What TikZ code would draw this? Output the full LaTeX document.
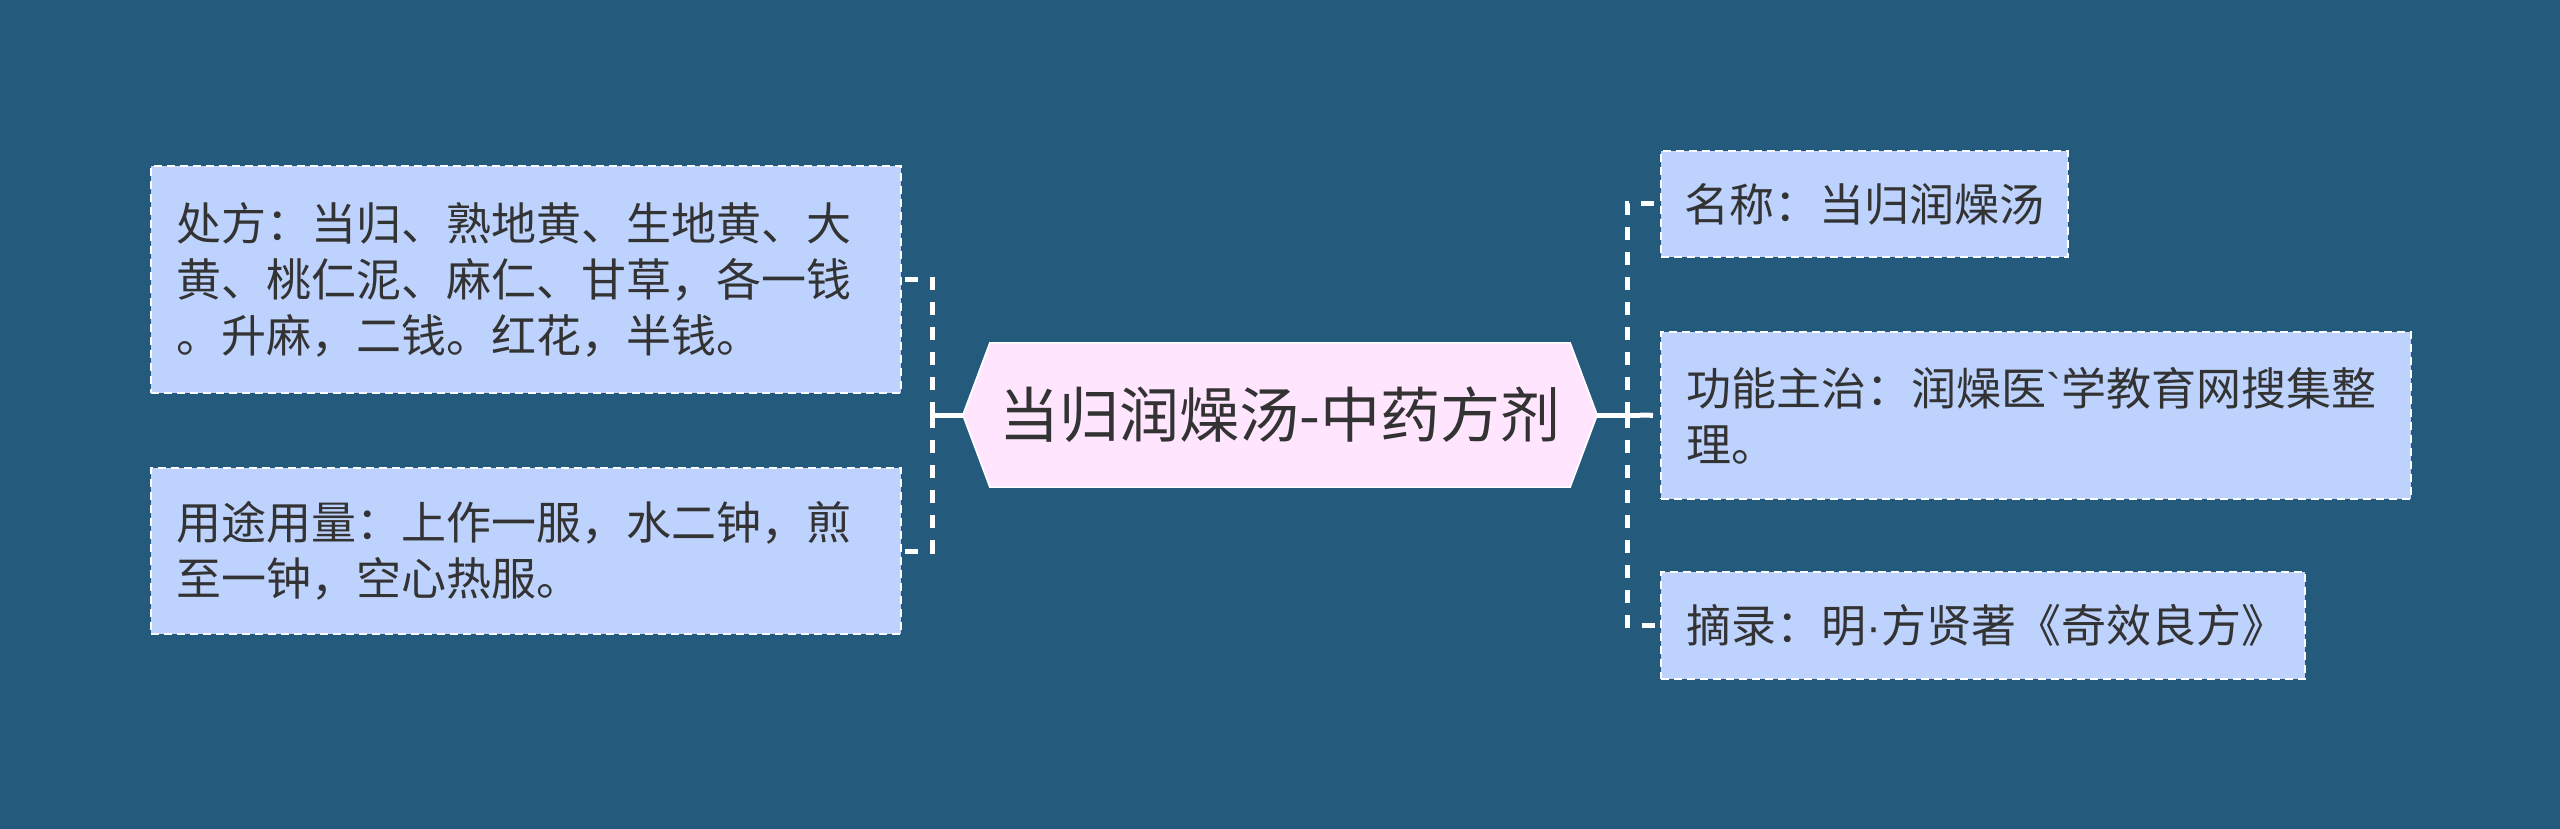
\documentclass[tikz,border=0pt]{standalone}
\usepackage{fontspec}
\newfontfamily\cjk{Noto Sans CJK SC}
\newfontfamily\latinsans{Liberation Sans}
\usetikzlibrary{backgrounds}
\definecolor{bg}{HTML}{245A7C}
\definecolor{boxfill}{HTML}{BDD2FD}
\definecolor{hexfill}{HTML}{FFE5FD}
\definecolor{txt}{HTML}{333333}
\begin{document}
\begin{tikzpicture}[x=1pt,y=-1pt,
  leaf/.style={draw=white, dash pattern=on 8pt off 5pt, line width=2pt,
    fill=boxfill, text=txt, anchor=north west, inner xsep=25pt, inner ysep=0pt,
    align=left, font=\cjk\fontsize{45pt}{56pt}\selectfont},
  centre/.style={text=txt, inner sep=0pt, minimum width=634pt, minimum height=144pt,
    font=\cjk\fontsize{60pt}{72pt}\selectfont},
  solidconn/.style={draw=white, line width=5pt},
  dashconn/.style={draw=white, line width=5pt, dash pattern=on 13pt off 12pt}]
\useasboundingbox (0,0) rectangle (2560,829);

\node[centre] (c) at (1280,415) {当归润燥汤-中药方剂};
\begin{scope}[on background layer]
  \fill[bg] (0,0) rectangle (2560,829);
  \filldraw[fill=hexfill, draw=white, line width=1.5pt]
    (c.west) -- ([xshift=27pt]c.north west) -- ([xshift=-27pt]c.north east)
    -- (c.east) -- ([xshift=-27pt]c.south east) -- ([xshift=27pt]c.south west) -- cycle;
\end{scope}

\node[leaf, minimum width=750pt, minimum height=227pt, text width=700pt] (b1) at (150,165)
  {处方：当归、熟地黄、生地黄、大\\黄、桃仁泥、麻仁、甘草，各一钱\\。升麻，二钱。红花，半钱。};
\node[leaf, minimum width=750pt, minimum height=166pt, text width=700pt] (b2) at (150,467)
  {用途用量：上作一服，水二钟，煎\\至一钟，空心热服。};

\node[leaf, minimum width=407pt, minimum height=106pt, text width=361pt, inner xsep=23pt] (r1) at (1660,150)
  {名称：当归润燥汤};
\node[leaf, minimum width=750pt, minimum height=167pt, text width=700pt] (r2) at (1660,331)
  {功能主治：润燥医{\latinsans`}学教育网搜集整\\理。};
\node[leaf, minimum width=644pt, minimum height=107pt, text width=594pt] (r3) at (1660,571)
  {摘录：明{\latinsans\fontsize{45pt}{56pt}\selectfont ·}方贤著《奇效良方》};

\coordinate (jl) at (932,415);
\coordinate (jr) at (1627,415);
\coordinate (jrs) at (1640,415);
\draw[solidconn] (c.west) -- (jl);
\draw[dashconn] (jl) |- (b1.east);
\draw[dashconn] (jl) |- (b2.east);
\draw[solidconn] (c.east) -- (jrs);
\draw[dashconn] (jr) |- (r1.west);
\draw[dashconn] (jrs) -- (r2.west);
\draw[dashconn] (jr) |- (r3.west);
\end{tikzpicture}
\end{document}
